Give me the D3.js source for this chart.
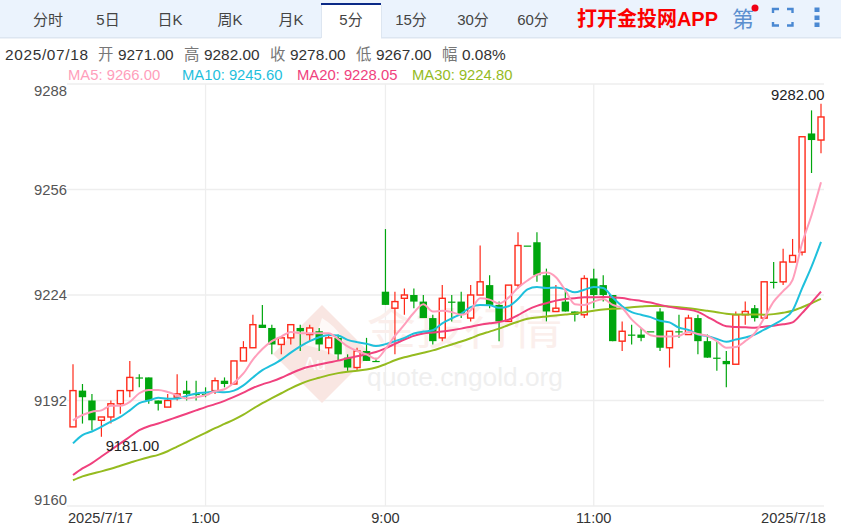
<!DOCTYPE html>
<html><head><meta charset="utf-8">
<script src="https://cdn.jsdelivr.net/npm/d3@7/dist/d3.min.js"></script>
<style>
html,body{margin:0;padding:0;background:#fff;overflow:hidden}
svg{display:block}
text{font-family:"Liberation Sans","Noto Sans CJK SC",sans-serif}
</style></head><body><svg id="c" width="841" height="526"></svg>
<script>
const tabs = ["分时","5日","日K","周K","月K","5分","15分","30分","60分"];
const tabCenters = [48,108,170,230,291,351,411,473,533];
const yTicks = [9288,9256,9224,9192,9160];
const xTickIndex = [14,33,55];
const xTickLabels = ["1:00","9:00","11:00"];
const firstDate = "2025/7/17", lastDate = "2025/7/18";
const opens = [9184,9195,9192,9186,9187,9191,9195,9199,9199,9192,
9190,9193,9195,9194,9194,9195,9198,9197,9204,9208,
9215,9214,9209,9211,9214,9212,9213,9208,9211,9205,
9202,9207,9204,9225,9220,9223,9224,9222,9217,9211,
9222,9222,9217,9224,9227,9221,9216,9227,9239,9240,
9230,9219,9222,9219,9218,9229,9227,9224,9210,9212,
9212,9213,9219,9208,9213,9212,9217,9210,9205,9204,
9203,9218,9220,9217,9228,9228,9234,9237,9273,9271];
const closes = [9195,9193,9186,9187,9191,9195,9199,9199,9192,9191,
9192,9194,9194,9194,9194,9198,9197,9204,9208,9215,
9214,9209,9211,9215,9213,9214,9209,9211,9206,9202,
9207,9204,9204,9221,9222,9224,9222,9217,9210,9223,
9222,9218,9224,9228,9221,9216,9227,9239,9239,9230,
9219,9220,9219,9218,9229,9224,9224,9210,9213,9212,
9211,9213,9208,9213,9213,9217,9210,9205,9205,9203,
9218,9219,9217,9228,9228,9234,9236,9272,9271,9278];
const highs = [9203,9197,9194,9187,9192,9195,9204,9200,9199,9192,
9194,9200,9198,9198,9196,9199,9199,9204,9210,9218,
9221,9215,9211,9215,9215,9215,9214,9212,9212,9206,
9208,9211,9205,9244,9225,9226,9226,9224,9218,9227,
9224,9225,9227,9239,9230,9222,9227,9243,9239,9243,
9232,9227,9226,9219,9230,9232,9230,9224,9216,9215,
9214,9213,9220,9213,9218,9218,9218,9212,9210,9207,
9219,9222,9221,9228,9234,9238,9241,9272,9280,9282];
const lows = [9184,9185,9183,9181,9185,9188,9193,9196,9191,9189,
9190,9192,9192,9192,9193,9194,9196,9197,9204,9208,
9214,9206,9206,9209,9207,9210,9207,9206,9204,9201,
9201,9204,9204,9221,9206,9218,9220,9217,9209,9210,
9216,9217,9216,9224,9220,9210,9216,9226,9239,9228,
9216,9219,9219,9216,9217,9220,9222,9210,9207,9209,
9210,9213,9207,9202,9211,9212,9206,9205,9201,9196,
9203,9215,9216,9217,9226,9227,9234,9236,9261,9267];
const ma5 = [9186,9187.6,9188.6,9189,9190.4,9190.4,9191.6,9194.2,9195.2,9195.2,
9194.6,9193.6,9192.6,9193,9193.6,9194.8,9195.4,9197.4,9200.2,9204.4,
9207.6,9210,9211.4,9212.8,9212.4,9212.4,9212.4,9212.4,9210.6,9208.4,
9207,9206,9204.6,9207.6,9211.6,9215,9218.6,9221.2,9219,9219.2,
9218.8,9218,9219.4,9223,9222.6,9221.4,9223.2,9226.2,9228.4,9230.2,
9230.8,9229.4,9225.4,9221.2,9221,9222,9222.8,9221,9220,9216.6,
9214,9211.8,9211.4,9211.4,9211.6,9212.8,9212.2,9211.6,9210,9208,
9208.2,9210,9212.4,9217,9222,9225.2,9228.6,9239.6,9248.2,9258.2];
const ma10 = [9179,9181.5,9182.6,9184,9185.6,9187,9189,9191.2,9192,9192.8,
9192.5,9192.6,9193.4,9194.1,9194.4,9194.7,9194.5,9195,9196.6,9199,
9201.2,9202.7,9204.4,9206.5,9208.4,9210,9211.2,9211.9,9211.7,9210.4,
9209.7,9209.2,9208.5,9209.1,9210,9211,9212.3,9212.9,9213.3,9215.4,
9216.9,9218.3,9220.3,9221,9220.9,9220.1,9220.6,9222.8,9225.7,9226.4,
9226.1,9226.3,9225.8,9224.8,9225.6,9226.4,9226.1,9223.2,9220.6,9218.8,
9218,9217.3,9216.2,9215.7,9214.1,9213.4,9212,9211.5,9210.7,9209.8,
9210.5,9211.1,9212,9213.5,9215,9216.7,9219.3,9226,9232.6,9240.1];
const ma20 = [9169.4,9171.4,9173,9175,9177,9179,9181,9183,9184.2,9185,
9186,9187,9188,9189,9190,9190.9,9191.9,9193.1,9194.4,9195.8,
9196.9,9197.8,9198.9,9200.2,9201.4,9202.3,9202.9,9203.5,9204.1,9204.8,
9205.4,9206,9206.7,9207.8,9209.2,9210.5,9211.6,9212.3,9212.6,9212.9,
9213.3,9213.8,9214.4,9215,9215.4,9215.8,9216.5,9217.9,9219.5,9220.7,
9221.5,9222.3,9222.8,9223,9223.3,9223.3,9223.4,9223.3,9223.1,9222.6,
9222.2,9221.7,9221,9220.4,9219.9,9219.6,9218.9,9217.4,9215.8,9214.5,
9214.3,9214.2,9214.1,9214.4,9214.7,9215.1,9215.7,9218.5,9221.7,9225];
const ma30 = [9167.8,9169,9169.8,9170.5,9171.3,9172.2,9173.1,9174,9174.8,9175.5,
9176.6,9178,9179.4,9180.8,9182.2,9183.6,9184.9,9186.2,9187.7,9189.5,
9191.2,9192.7,9194.2,9195.7,9197,9198.1,9198.9,9199.7,9200.3,9200.7,
9201,9201.4,9202,9203,9204.2,9205.1,9205.8,9206.5,9207.2,9208.1,
9209,9209.9,9210.9,9212,9212.9,9213.8,9214.9,9215.9,9216.8,9217.2,
9217.5,9217.8,9218.1,9218.4,9218.8,9219.2,9219.6,9219.8,9220,9220.3,
9220.5,9220.7,9220.7,9220.5,9220.3,9220,9219.6,9219.2,9218.8,9218.3,
9218.1,9218.1,9218.1,9218,9218.2,9218.6,9219.2,9220.3,9221.5,9222.8];
const indices = closes.map((_, i) => i);

const svg = d3.select("#c");
const RED="#ff2a1a", GREEN="#00a60e";
const x = d3.scalePoint().domain(indices).range([73,821]);
const y = d3.scaleLinear().domain([9160,9288]).range([506,84]);

// toolbar
svg.append("rect").attr("width",841).attr("height",37).attr("fill","#ebf3fd");
svg.append("rect").attr("y",37).attr("width",841).attr("height",1.5).attr("fill","#dde6f1");
svg.append("rect").attr("x",321).attr("y",3).attr("width",60).attr("height",36).attr("fill","#fff");
svg.append("rect").attr("x",321).attr("y",3).attr("width",60).attr("height",2).attr("fill","#0b2a86");
svg.append("rect").attr("x",381).attr("y",5).attr("width",1).attr("height",33).attr("fill","#dde6f1");
svg.append("rect").attr("x",321).attr("y",5).attr("width",1).attr("height",33).attr("fill","#dde6f1");
svg.selectAll("text.tab").data(tabs).join("text").attr("class","tab")
 .attr("x",(d,i)=>tabCenters[i]).attr("y",25).attr("text-anchor","middle")
 .attr("font-size",15).attr("fill","#444").text(d=>d);
svg.append("text").attr("x",577).attr("y",26).attr("font-size",20).attr("font-weight","bold")
 .attr("fill","#fb0000").attr("textLength",141).attr("lengthAdjust","spacingAndGlyphs").text("打开金投网APP");
svg.append("text").attr("x",743).attr("y",27).attr("text-anchor","middle").attr("font-size",22)
 .attr("fill","#5b8fcf").text("第");
svg.append("circle").attr("cx",755).attr("cy",8).attr("r",3.5).attr("fill","#f00014");
svg.append("path").attr("fill","none").attr("stroke","#4a88d2").attr("stroke-width",2.4)
 .attr("d","M773 13V9H779M787 9H792.5V13M792.5 22V25.5H787M779 25.5H773V22");
[10,18,25].forEach(v=>svg.append("rect").attr("x",814.5).attr("y",v-2.5).attr("width",5).attr("height",4.5).attr("fill","#4a88d2"));

// info lines
const infoParts=[["开",98,"#777"],["9271.00",118,"#333"],["高",184,"#777"],["9282.00",204,"#333"],
["收",270,"#777"],["9278.00",290,"#333"],["低",356,"#777"],["9267.00",376,"#333"],["幅",442,"#777"],["0.08%",462,"#333"]];
svg.append("text").attr("x",5).attr("y",60).attr("font-size",15.4).attr("fill","#333").attr("textLength",83).text("2025/07/18");
svg.selectAll("text.info").data(infoParts).join("text").attr("class","info")
 .attr("x",d=>d[1]).attr("y",60).attr("font-size",15.4).attr("fill",d=>d[2]).text(d=>d[0]);
const maLabels=[["MA5: 9266.00",68,"#ff9ebb"],["MA10: 9245.60",182,"#1fc0dc"],["MA20: 9228.05",297,"#f0417e"],["MA30: 9224.80",412,"#95bb1f"]];
svg.selectAll("text.ma").data(maLabels).join("text").attr("class","ma")
 .attr("x",d=>d[1]).attr("y",80).attr("font-size",14.8).attr("fill",d=>d[2]).text(d=>d[0]);

// grid
svg.selectAll("line.h").data(yTicks).join("line").attr("class","h")
 .attr("x1",67).attr("x2",824).attr("y1",d=>y(d)).attr("y2",d=>y(d))
 .attr("stroke","#eeeeee").attr("stroke-width",1.3);
svg.selectAll("line.v").data(xTickIndex).join("line").attr("class","v")
 .attr("x1",d=>x(d)).attr("x2",d=>x(d)).attr("y1",84).attr("y2",506)
 .attr("stroke","#eeeeee").attr("stroke-width",1.3);

// watermark
const wm = svg.append("g");
wm.append("path").attr("d","M322 305L371 354L322 403L273 354Z").attr("fill","#f9e6e2");
wm.append("path").attr("d","M322 318Q350 335 345 362Q330 350 305 345Q318 335 322 318Z").attr("fill","#fff").attr("opacity",.75);
wm.append("text").attr("x",315).attr("y",370).attr("text-anchor","middle").attr("font-size",18).attr("fill","#fff").text("Au");
wm.append("text").attr("x",367).attr("y",345).attr("font-size",45).attr("fill","#fbefec")
 .attr("textLength",195).attr("lengthAdjust","spacingAndGlyphs").text("金投行情");
wm.append("text").attr("x",367).attr("y",386).attr("font-size",26).attr("fill","#efefef")
 .attr("textLength",196).attr("lengthAdjust","spacingAndGlyphs").text("quote.cngold.org");

// candles
const g = svg.append("g");
const isUp = i => closes[i] > opens[i];
g.selectAll("line.w").data(indices).join("line").attr("class","w")
 .attr("x1",i=>x(i)).attr("x2",i=>x(i)).attr("y1",i=>y(highs[i])).attr("y2",i=>y(lows[i]))
 .attr("stroke",i=>isUp(i)?RED:GREEN).attr("stroke-width",1.2);
g.selectAll("rect.b").data(indices).join("rect").attr("class","b")
 .attr("x",i=>x(i)-(isUp(i)?3:3.7)).attr("width",i=>isUp(i)?6:7.4)
 .attr("y",i=>y(Math.max(opens[i],closes[i])))
 .attr("height",i=>Math.max(1.2,Math.abs(y(opens[i])-y(closes[i]))))
 .attr("fill",i=>isUp(i)?"#fff":GREEN)
 .attr("stroke",i=>isUp(i)?RED:"none").attr("stroke-width",1.4);

// moving averages
const line = d3.line().x((d,i)=>x(i)).y(d=>y(d)).curve(d3.curveMonotoneX);
[[ma30,"#95bb1f"],[ma20,"#f0417e"],[ma10,"#1fc0dc"],[ma5,"#ff9ebb"]].forEach(([s,c])=>{
  svg.append("path").attr("d",line(s)).attr("fill","none").attr("stroke",c).attr("stroke-width",2);
});

// axis labels
svg.selectAll("text.yl").data(yTicks).join("text").attr("class","yl")
 .attr("x",67).attr("text-anchor","end").attr("font-size",14.8).attr("fill","#555")
 .attr("y",(d,i)=>y(d)+5+(i===0?7:(i===4?-6:0))).text(d=>d);
svg.selectAll("text.xl").data(xTickIndex).join("text").attr("class","xl")
 .attr("x",(d)=>x(d)).attr("y",523).attr("text-anchor","middle").attr("font-size",14.6).attr("fill","#333")
 .text((d,i)=>xTickLabels[i]);
svg.append("text").attr("x",68).attr("y",523).attr("font-size",14.6).attr("fill","#333").text(firstDate);
svg.append("text").attr("x",826).attr("y",523).attr("text-anchor","end").attr("font-size",14.6).attr("fill","#333").text(lastDate);

// extreme labels
const hiIdx = d3.maxIndex(highs), loIdx = d3.minIndex(lows);
svg.append("text").attr("x",x(hiIdx)+3.5).attr("y",y(highs[hiIdx])-4).attr("text-anchor","end").attr("font-size",14.8).attr("fill","#222").text(highs[hiIdx].toFixed(2));
svg.append("text").attr("x",x(loIdx)+31).attr("y",y(lows[loIdx])+14.5).attr("text-anchor","middle").attr("font-size",14.8).attr("fill","#222").text(lows[loIdx].toFixed(2));
</script></body></html>
